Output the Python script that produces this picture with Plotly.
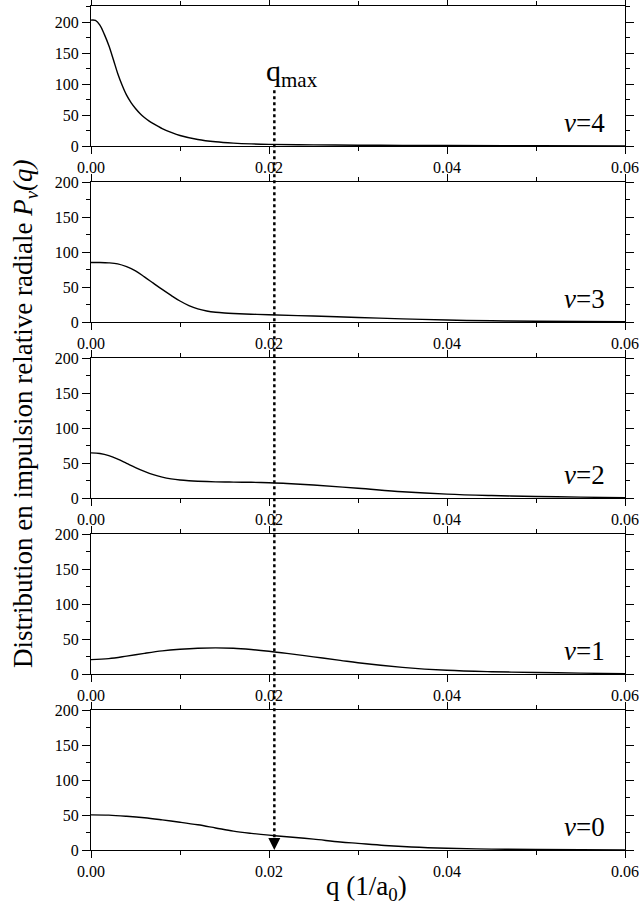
import plotly.graph_objects as go

# ---------------- data ----------------
q_v4 = [0, 0.0005, 0.001, 0.0015, 0.002, 0.0025, 0.003, 0.0035, 0.004, 0.0045, 0.005, 0.0055, 0.006,
        0.0065, 0.007, 0.008, 0.009, 0.010, 0.012, 0.014, 0.016, 0.018, 0.020, 0.025, 0.030, 0.035,
        0.040, 0.050, 0.060]
p_v4 = [203, 202.5, 195, 180, 162, 140, 117, 98, 82, 70, 60.5, 52.5, 46,
        40.5, 36, 28, 22, 17, 10.5, 6.8, 4.7, 3.4, 2.7, 1.8, 1.3, 1.0,
        0.8, 0.4, 0.2]

q_v3 = [0, 0.001, 0.002, 0.003, 0.004, 0.005, 0.006, 0.007, 0.008, 0.009, 0.010, 0.011, 0.012,
        0.013, 0.014, 0.015, 0.016, 0.018, 0.020, 0.025, 0.030, 0.035, 0.040, 0.045, 0.050, 0.060]
p_v3 = [85, 85, 84.5, 83, 79, 73, 64.5, 55.5, 46.5, 38, 30, 23.5, 18.8,
        15.8, 13.9, 12.8, 12.1, 11.1, 10.3, 8.5, 6.5, 4.5, 2.8, 1.7, 1.0, 0.3]

q_v2 = [0, 0.001, 0.002, 0.003, 0.004, 0.005, 0.006, 0.007, 0.008, 0.009, 0.010, 0.011, 0.012,
        0.014, 0.016, 0.018, 0.020, 0.022, 0.025, 0.030, 0.035, 0.040, 0.045, 0.050, 0.055, 0.060]
p_v2 = [64.5, 63.5, 60.5, 55.5, 49.5, 43.5, 38, 33.3, 29.8, 27.3, 25.7, 24.7, 24,
        23.1, 22.7, 22.4, 21.8, 20.8, 18.5, 14, 9, 5.5, 3.5, 2.2, 1.2, 0.6]

q_v1 = [0, 0.002, 0.004, 0.006, 0.008, 0.010, 0.012, 0.014, 0.016, 0.018, 0.020, 0.022,
        0.025, 0.028, 0.030, 0.035, 0.040, 0.045, 0.050, 0.055, 0.060]
p_v1 = [20.5, 22, 25.5, 29.5, 33, 35.3, 36.8, 37.3, 36.8, 35, 32.5, 29.5,
        24.5, 19.5, 16, 9.5, 5.3, 3.3, 2.2, 1.2, 0.6]

q_v0 = [0, 0.002, 0.004, 0.006, 0.008, 0.010, 0.012, 0.014, 0.016, 0.018, 0.020, 0.022,
        0.025, 0.028, 0.030, 0.033, 0.036, 0.040, 0.045, 0.050, 0.060]
p_v0 = [50.2, 49.8, 48.2, 46, 43, 39.7, 36, 31.5, 27, 23.8, 21.2, 19,
        15.5, 11.5, 9.5, 6.5, 4.3, 2.5, 1.3, 0.7, 0.2]

levels = ["4", "3", "2", "1", "0"]          # top to bottom
y_max = [225.8, 200, 200, 200, 200]          # y-axis upper limits
x_ticks = [0.00, 0.02, 0.04, 0.06]
y_ticks = [0, 50, 100, 150, 200]
q_max = 0.0206                               # position of the dotted marker
q_max_top = 89.8                             # top of dotted line (panel v=4 units)

series = [(q_v4, p_v4), (q_v3, p_v3), (q_v2, p_v2), (q_v1, p_v1), (q_v0, p_v0)]

# ---------------- layout geometry ----------------
W, H = 639, 909
ML, MR, MT, MB = 91, 14, 6, 59
plot_h = H - MT - MB            # 844
panel_h = 140 / plot_h
gap = 36 / plot_h
FONT = "Liberation Serif"

fig = go.Figure()
domains = []
for i in range(5):
    top = 1 - i * (panel_h + gap)
    domains.append([top - panel_h, top])

for i, ((qs, ps), lv) in enumerate(zip(series, levels)):
    n = "" if i == 0 else str(i + 1)
    fig.add_trace(go.Scatter(x=qs, y=ps, mode="lines", line=dict(color="black", width=1.4, shape="spline", smoothing=1.0),
                             xaxis="x" + n, yaxis="y" + n, showlegend=False, hoverinfo="skip"))
    axcommon = dict(showline=True, linecolor="black", linewidth=1.3, mirror="ticks", ticks="outside",
                    tickcolor="black", tickwidth=1.2, showgrid=False, zeroline=False, automargin=False,
                    tickfont=dict(family=FONT, size=16, color="black"))
    fig.layout["xaxis" + n] = dict(axcommon, domain=[0, 1], range=[0, 0.06], tickvals=x_ticks,
                                   ticktext=["%.2f" % v for v in x_ticks], ticklen=7,
                                   minor=dict(dtick=0.01, tick0=0, ticklen=4, ticks="outside", tickcolor="black", tickwidth=1.2),
                                   anchor="y" + n)
    fig.layout["yaxis" + n] = dict(axcommon, domain=domains[i], range=[0, y_max[i]], tickvals=y_ticks, ticklen=8,
                                   minor=dict(dtick=25, tick0=0, ticklen=4, ticks="outside", tickcolor="black", tickwidth=1.2),
                                   anchor="x" + n)
    fig.add_annotation(xref="x" + n + " domain", yref="y" + n + " domain", x=0.967, y=0.162,
                       xanchor="right", yanchor="middle", showarrow=False,
                       text="<i>v</i>=" + lv, font=dict(family=FONT, size=27, color="black"))

# dotted vertical line from panel v=4 down to panel v=0
top_paper = domains[0][0] + q_max_top / y_max[0] * panel_h
fig.add_shape(type="line", xref="x", yref="paper", x0=q_max, x1=q_max, y0=0.008, y1=top_paper,
              line=dict(color="black", width=2.5, dash="dot"))
# arrow head at the bottom
fig.add_trace(go.Scatter(x=[q_max], y=[0], mode="markers", xaxis="x5", yaxis="y5",
                         marker=dict(symbol="arrow-down", size=12, color="black"),
                         cliponaxis=False, showlegend=False, hoverinfo="skip"))

fig.add_annotation(xref="x", yref="y domain", x=0.0226, y=0.52, showarrow=False,
                   xanchor="center", yanchor="middle",
                   text="q<sub>max</sub>", font=dict(family=FONT, size=30, color="black"))

# axis titles
fig.add_annotation(xref="paper", yref="paper", x=(25 - ML) / (W - ML - MR), y=(H - MB - 414) / plot_h,
                   textangle=-90, showarrow=False, xanchor="center", yanchor="middle",
                   text="Distribution en impulsion relative radiale <i>P</i><sub><i>v</i></sub><i>(q)</i>",
                   font=dict(family=FONT, size=27, color="black"))
fig.add_annotation(xref="paper", yref="paper", x=(366 - ML) / (W - ML - MR), y=-(888 - (H - MB)) / plot_h,
                   showarrow=False, xanchor="center", yanchor="middle",
                   text="q (1/a<sub>0</sub>)", font=dict(family=FONT, size=27, color="black"))

fig.update_layout(template="none", width=W, height=H, margin=dict(l=ML, r=MR, t=MT, b=MB, autoexpand=False),
                  font=dict(family=FONT, color="black"),
                  plot_bgcolor="white", paper_bgcolor="white", showlegend=False)

fig.write_html("out.html", config={"displayModeBar": False},
               post_script="document.body.style.margin='0';document.body.style.overflow='hidden';")
